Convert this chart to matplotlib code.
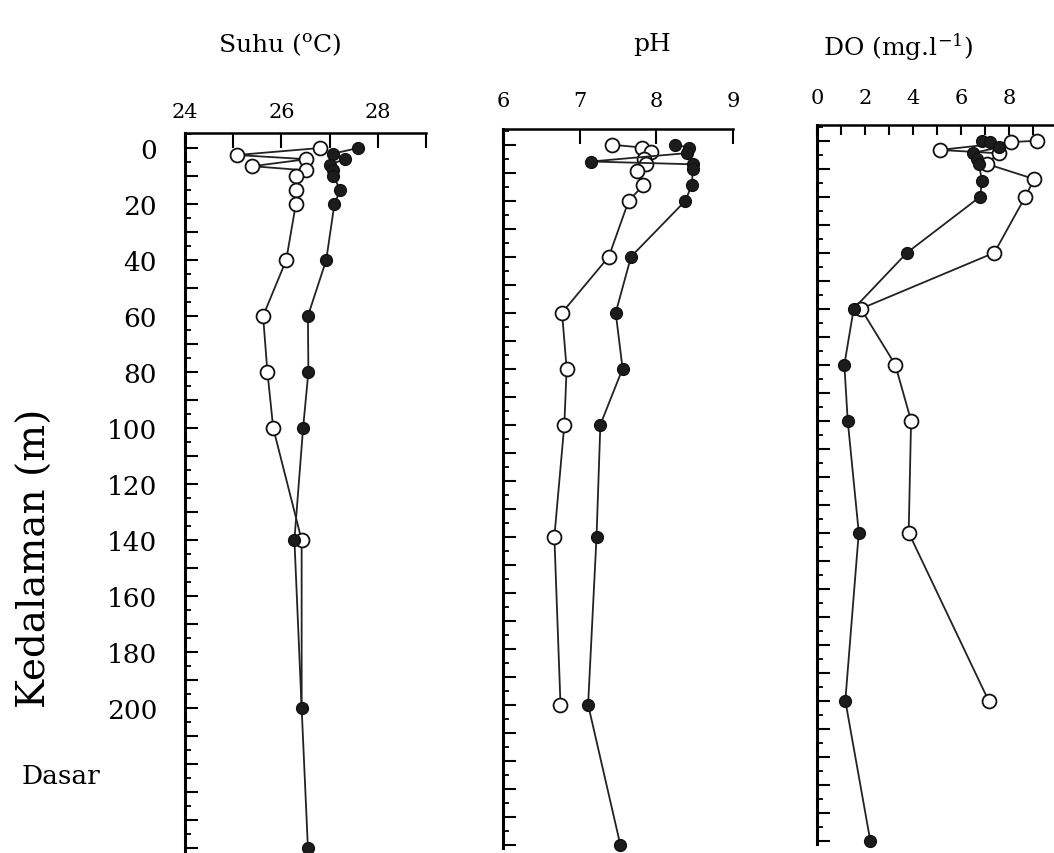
import matplotlib
matplotlib.use("Agg")
import matplotlib.pyplot as plt
import matplotlib.transforms as mtransforms
from matplotlib.ticker import MultipleLocator, FuncFormatter

plt.rcParams['font.family'] = ['DejaVu Serif']
plt.rcParams['mathtext.fontset'] = 'dejavuserif'

# Profil suhu (o = terbuka, f = tertutup)
kedalaman_suhu_o = [0, 2.5, 4, 6.5, 8, 10, 15, 20, 40, 60, 80, 100, 140, 200]
suhu_o = [26.8, 25.08, 26.52, 25.4, 26.52, 26.3, 26.3, 26.3, 26.1, 25.62, 25.71, 25.83, 26.42, 26.42]
kedalaman_suhu_f = [0, 2, 4, 6, 8, 10, 15, 20, 40, 60, 80, 100, 140, 200, 250]
suhu_f = [27.59, 27.08, 27.31, 27.0, 27.07, 27.08, 27.22, 27.1, 26.93, 26.55, 26.56, 26.45, 26.27, 26.42, 26.55]

# Profil pH
kedalaman_ph_o = [0, 1, 2.5, 5, 7, 9.5, 14.5, 20, 40, 60, 80, 100, 140, 200]
ph_o = [7.42, 7.81, 7.93, 7.84, 7.86, 7.75, 7.83, 7.64, 7.38, 6.77, 6.83, 6.80, 6.67, 6.75]
kedalaman_ph_f = [0, 1, 3, 6, 7, 8.5, 14.5, 20, 40, 60, 80, 100, 140, 200, 250]
ph_f = [8.25, 8.42, 8.40, 7.15, 8.48, 8.48, 8.46, 8.38, 7.67, 7.47, 7.56, 7.27, 7.22, 7.11, 7.53]

# Profil DO
kedalaman_do_o = [0, 0.5, 3.3, 4.5, 8.3, 13.7, 20, 40, 60, 80, 100, 140, 200]
do_o = [9.17, 8.1, 5.11, 7.57, 7.08, 9.05, 8.68, 7.39, 1.83, 3.26, 3.92, 3.82, 7.15]
kedalaman_do_f = [0, 0.5, 2.4, 4.4, 6.5, 8.3, 14.3, 20, 40, 60, 80, 100, 140, 200, 250]
do_f = [6.87, 7.22, 7.57, 6.5, 6.67, 6.75, 6.87, 6.8, 3.75, 1.53, 1.14, 1.28, 1.74, 1.18, 2.22]

W, H = 1054, 854
fig = plt.figure(figsize=(W / 100, H / 100), dpi=100)

PX_M = 2.8          # piksel per meter
D_TOP, D_BOT = -5.5, 251


def buat_panel(x_kiri, x_kanan, y_nol):
    top = y_nol + D_TOP * PX_M
    bot = y_nol + D_BOT * PX_M
    ax = fig.add_axes([x_kiri / W, 1 - bot / H, (x_kanan - x_kiri) / W, (bot - top) / H])
    ax.set_ylim(D_BOT, D_TOP)
    for s in ['right', 'bottom']:
        ax.spines[s].set_visible(False)
    ax.spines['left'].set_linewidth(2.2)
    ax.spines['top'].set_linewidth(1.8)
    ax.yaxis.set_major_locator(MultipleLocator(10))
    ax.yaxis.set_minor_locator(MultipleLocator(5))
    ax.tick_params(axis='y', which='major', direction='in', length=9.5, width=1.5,
                   left=True, right=False, labelleft=False)
    ax.tick_params(axis='y', which='minor', direction='in', length=4.5, width=1.3,
                   left=True, right=False)
    ax.patch.set_alpha(0)
    return ax


def gambar(ax, x_o, d_o, x_f, d_f, tanda_o=None):
    ax.plot(x_o, d_o, '-', color='#222222', lw=1.3, marker='o', ms=10,
            mfc='white', mec='#111111', mew=1.3, zorder=2, clip_on=False,
            markevery=tanda_o)
    ax.plot(x_f, d_f, '-', color='#222222', lw=1.3, marker='o', ms=8.5,
            mfc='#1c1c1c', mec='#111111', mew=1.0, zorder=3, clip_on=False)


# Suhu
ax1 = buat_panel(185, 426, 149)
ax1.set_xlim(24, 29)
ax1.set_xticks([24, 26, 28])
ax1.set_xticks([25, 27, 29], minor=True)
ax1.tick_params(axis='x', which='both', direction='in', length=11, width=1.5,
                top=True, bottom=False, labeltop=True, labelbottom=False, pad=8, labelsize=15)
ax1.tick_params(axis='y', which='major', labelleft=True, labelsize=19, pad=20)
ax1.yaxis.set_major_formatter(FuncFormatter(
    lambda v, p: f"{int(v)}" if (v % 20 == 0 and 0 <= v <= 200) else ""))
# titik terbuka di 200 m tertutup oleh titik hitam
gambar(ax1, suhu_o, kedalaman_suhu_o, suhu_f, kedalaman_suhu_f,
       tanda_o=list(range(len(suhu_o) - 1)))

# pH
ax2 = buat_panel(503, 733, 145.7)
ax2.set_xlim(6, 9)
ax2.set_xticks([6, 7, 8, 9])
ax2.tick_params(axis='x', which='both', direction='in', length=11, width=1.5,
                top=True, bottom=False, labeltop=True, labelbottom=False, pad=14, labelsize=15)
gambar(ax2, ph_o, kedalaman_ph_o, ph_f, kedalaman_ph_f)

# DO
ax3 = buat_panel(817, 1054, 141.7)
ax3.set_xlim(0, (1054 - 817) / 24)
ax3.set_xticks([0, 2, 4, 6, 8])
ax3.set_xticks([1, 3, 5, 7, 9], minor=True)
ax3.tick_params(axis='x', which='both', direction='in', length=7, width=1.5,
                top=True, bottom=False, labeltop=True, labelbottom=False, pad=13, labelsize=15)
gambar(ax3, do_o, kedalaman_do_o, do_f, kedalaman_do_f)

# Judul tiap panel
fig.text(280 / W, 1 - 45 / H, r"Suhu ($^{\mathrm{o}}$C)", ha='center', va='center', fontsize=18)
fig.text(652 / W, 1 - 45 / H, "pH", ha='center', va='center', fontsize=18)
fig.text(898 / W, 1 - 47 / H, r"DO (mg.l$^{-1}$)", ha='center', va='center', fontsize=18)

# Label sumbu kedalaman
fig.text(35 / W, 1 - 558 / H, "Kedalaman (m)", rotation=90, ha='center', va='center', fontsize=28)
trans = mtransforms.blended_transform_factory(fig.transFigure, ax1.transData)
ax1.text(22 / W, 224, "Dasar", transform=trans, ha='left', va='center', fontsize=19)

fig.savefig('out.png', dpi=100)
plt.close(fig)
